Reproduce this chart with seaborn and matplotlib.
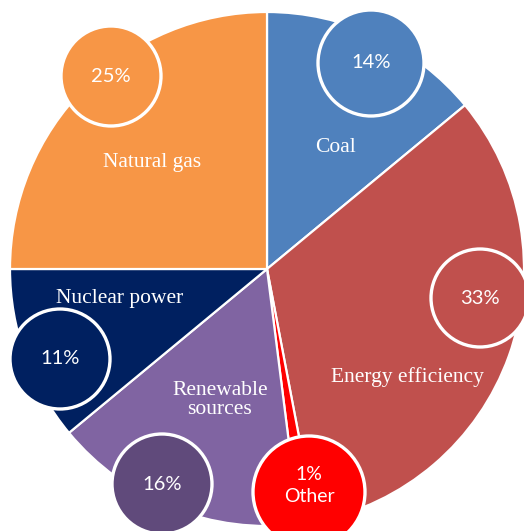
import matplotlib
matplotlib.use("Agg")
import matplotlib.pyplot as plt
from matplotlib.patches import Circle
import seaborn as sns

# Energy mix shares (percent), clockwise from 12 o'clock
categories = ["Coal", "Energy efficiency", "Other", "Renewable sources",
              "Nuclear power", "Natural gas"]
shares = [14, 33, 1, 16, 11, 25]
slice_colors = ["#4F81BD", "#C0504D", "#FF0000", "#8064A2", "#002060", "#F79646"]
bubble_colors = ["#4F81BD", "#C0504D", "#FF0000", "#604A7B", "#002060", "#F79646"]
name_labels = ["Coal", "Energy efficiency", "", "Renewable\nsources",
               "Nuclear power", "Natural gas"]

sns.set_theme(style="white")

W, H = 524, 531
fig = plt.figure(figsize=(W / 100, H / 100), dpi=100)
ax = fig.add_axes([0, 0, 1, 1])

# pie geometry in pixel units (y measured from the top, flipped below)
cx, cy, R = 267, 269, 257


def px(x, y):
    return x, H - y


wedges, _ = ax.pie(
    shares,
    colors=sns.color_palette(slice_colors),
    startangle=90,
    counterclock=False,
    center=px(cx, cy),
    radius=R,
    wedgeprops=dict(edgecolor="white", linewidth=1.6),
    frame=True,
)
ax.set_xlim(0, W)
ax.set_ylim(0, H)
ax.set_aspect("equal")
ax.axis("off")

serif = ["Liberation Serif", "DejaVu Serif"]
sans = ["Lato", "DejaVu Sans"]

# category names inside the slices
name_pos = [(336, 147), (407, 377), None, (220, 400), (120, 298), (152, 162)]
for name, pos in zip(name_labels, name_pos):
    if pos is None:
        continue
    ax.text(*px(*pos), name, ha="center", va="center", color="white",
            fontsize=15.5, family=serif, linespacing=1.05, zorder=5)

# percentage bubbles
bubble_pos = [(371, 63, 53), (480, 298, 49), (309, 492, 56),
              (162, 484, 50), (60, 359, 50), (111, 76, 50)]
for share, cat, col, (bx, by, br) in zip(shares, categories, bubble_colors, bubble_pos):
    ax.add_patch(Circle(px(bx, by), br, facecolor=col, edgecolor="white",
                        linewidth=2.4, zorder=6))
    if cat == "Other":
        ax.text(*px(bx, 475), f"{share}%", ha="center", va="center",
                color="white", fontsize=14, family=sans, zorder=7)
        ax.text(*px(bx, 497), cat, ha="center", va="center",
                color="white", fontsize=14, family=sans, zorder=7)
    else:
        ax.text(*px(bx, by), f"{share}%", ha="center", va="center",
                color="white", fontsize=14.5, family=sans, zorder=7)

fig.savefig("out.png", dpi=100, facecolor="white")
